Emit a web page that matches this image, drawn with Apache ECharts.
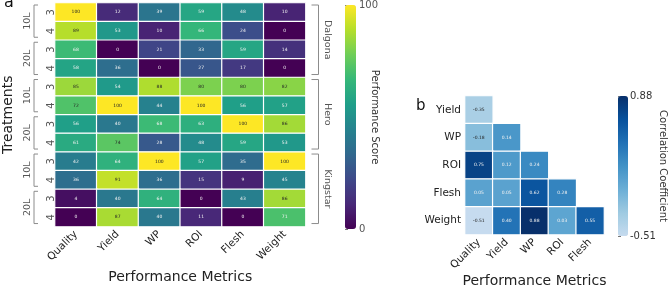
<!DOCTYPE html>
<html>
<head>
<meta charset="utf-8">
<script src="https://cdn.jsdelivr.net/npm/echarts@6/dist/echarts.min.js"></script>
<style>
  html, body { margin: 0; padding: 0; background: #fff; }
  #chart { width: 669px; height: 289px; }
</style>
</head>
<body>
<div id="chart"></div>
<script>
// panel a: performance scores
const metrics = ["Quality", "Yield", "WP", "ROI", "Flesh", "Weight"];
const cultivars = ["Dalgona", "Hero", "Kingstar"];
const volumes = ["10L", "20L"];
const levels = ["3", "4"];
// one row per cultivar / volume / level, columns follow metrics
const scores = [
  [100, 12, 39, 59, 48, 10],
  [89, 53, 10, 66, 24, 0],
  [68, 0, 21, 33, 59, 14],
  [58, 36, 0, 27, 17, 0],
  [85, 54, 88, 80, 80, 82],
  [72, 100, 44, 100, 56, 57],
  [56, 40, 68, 63, 100, 86],
  [61, 74, 28, 48, 59, 53],
  [42, 64, 100, 57, 35, 100],
  [36, 91, 36, 15, 9, 45],
  [4, 40, 64, 0, 43, 86],
  [0, 87, 40, 11, 0, 71]
];
const scoreRange = [0, 100];

// panel b: correlation (lower triangle)
const corrCols = ["Quality", "Yield", "WP", "ROI", "Flesh"];
const corrRows = ["Yield", "WP", "ROI", "Flesh", "Weight"];
const corr = [
  [-0.35],
  [-0.18, 0.14],
  [0.75, 0.12, 0.24],
  [0.05, 0.05, 0.62, 0.28],
  [-0.51, 0.40, 0.88, 0.03, 0.55]
];
const corrRange = [-0.51, 0.88];

const viridis = ["#440154", "#482878", "#3e4989", "#31688e", "#26828e",
  "#1f9e89", "#35b779", "#6ece58", "#b5de2b", "#fde725"];
const blues = ["#c6dbef", "#9ecae1", "#6baed6", "#4292c6", "#2171b5", "#08519c", "#08306b"];
const FONT = "DejaVu Sans";

// build row labels & data
const rowLabels = [];
cultivars.forEach(() => volumes.forEach(() => levels.forEach(l => rowLabels.push(l))));
const heatA = [];
scores.forEach((row, r) => row.forEach((v, c) => heatA.push([c, r, v])));
const heatB = [];
corr.forEach((row, r) => row.forEach((v, c) => heatB.push([c, r, v])));

const volGroups = [], volNames = [];
const cultGroups = [];
cultivars.forEach((cv, ci) => {
  cultGroups.push([ci * 4, ci * 4 + 3]);
  volumes.forEach((vol, vi) => {
    volGroups.push([ci * 4 + vi * 2, ci * 4 + vi * 2 + 1]);
    volNames.push(vol);
  });
});

// bracket drawn next to the grid, using the axis scale
function bracket(side, names) {
  return function (params, api) {
    const band = Math.abs(api.size([0, 1])[1]);
    const top = api.coord([0, api.value(0)])[1] - band / 2 + 2;
    const bot = api.coord([0, api.value(1)])[1] + band / 2 - 3;
    const cs = params.coordSys;
    let lx, tx, labx, rot;
    if (side === "left") {
      lx = cs.x - 21; tx = cs.x - 17; labx = cs.x - 27; rot = Math.PI / 2;
    } else {
      lx = cs.x + cs.width + 13; tx = cs.x + cs.width + 6; labx = cs.x + cs.width + 22; rot = -Math.PI / 2;
    }
    return {
      type: "group",
      children: [
        {
          type: "polyline",
          shape: { points: [[tx, top], [lx, top], [lx, bot], [tx, bot]] },
          style: { stroke: "#8c8c8c", lineWidth: 1, fill: null }
        },
        {
          type: "text",
          x: labx, y: (top + bot) / 2, rotation: rot,
          style: {
            text: names[params.dataIndex], fill: "#555", font: "9.5px " + FONT,
            align: "center", verticalAlign: "middle"
          }
        }
      ]
    };
  };
}

const chart = echarts.init(document.getElementById("chart"));
const option = {
  animation: false,
  textStyle: { fontFamily: FONT },
  graphic: [
    { type: "text", left: 4, top: -5, style: { text: "a", font: "16px " + FONT, fill: "#111" } },
    { type: "text", left: 416, top: 99, style: { text: "b", font: "15px " + FONT, fill: "#111" } }
  ],
  grid: [
    { left: 55, top: 3, width: 250.5, height: 228 },
    { left: 465, top: 96, width: 139, height: 140 },
    { left: 345, top: 5, width: 11, height: 224 },
    { left: 618, top: 96, width: 10, height: 140 }
  ],
  xAxis: [
    {
      gridIndex: 0, type: "category", data: metrics,
      axisLine: { show: false },
      axisTick: { alignWithLabel: true, length: 3, lineStyle: { color: "#777" } },
      axisLabel: { rotate: 45, interval: 0, fontSize: 10.5, color: "#222", margin: 6 },
      name: "Performance Metrics", nameLocation: "middle", nameGap: 42,
      nameTextStyle: { fontSize: 14, color: "#222" }
    },
    {
      gridIndex: 1, type: "category", data: corrCols,
      axisLine: { show: false },
      axisTick: { alignWithLabel: true, length: 3, lineStyle: { color: "#777" } },
      axisLabel: { rotate: 45, interval: 0, fontSize: 10.5, color: "#222", margin: 6 },
      name: "Performance Metrics", nameLocation: "middle", nameGap: 39,
      nameTextStyle: { fontSize: 14, color: "#222" }
    },
    { gridIndex: 2, type: "value", show: false },
    { gridIndex: 3, type: "value", show: false }
  ],
  yAxis: [
    {
      gridIndex: 0, type: "category", data: rowLabels, inverse: true,
      axisLine: { show: false }, axisTick: { show: false },
      axisLabel: { rotate: 90, interval: 0, fontSize: 10, color: "#555", margin: -1 },
      name: "Treatments", nameLocation: "middle", nameRotate: 90, nameGap: 40,
      nameMoveOverlap: false,
      nameTextStyle: { fontSize: 14, color: "#222" }
    },
    {
      gridIndex: 1, type: "category", data: corrRows, inverse: true,
      axisLine: { show: false },
      axisTick: { alignWithLabel: true, length: 3, lineStyle: { color: "#777" } },
      axisLabel: { interval: 0, fontSize: 10.5, color: "#222", margin: 4 }
    },
    {
      gridIndex: 2, type: "value", position: "right",
      min: scoreRange[0], max: scoreRange[1], interval: 100,
      axisLine: { show: false }, splitLine: { show: false },
      axisTick: { show: true, length: 3, lineStyle: { color: "#777" } },
      axisLabel: { fontSize: 10, color: "#555", margin: 3 },
      name: "Performance Score", nameLocation: "middle", nameRotate: -90, nameGap: 14,
      nameMoveOverlap: false,
      nameTextStyle: { fontSize: 10, color: "#333" }
    },
    {
      gridIndex: 3, type: "value", position: "right",
      min: corrRange[0], max: corrRange[1], interval: corrRange[1] - corrRange[0],
      axisLine: { show: false }, splitLine: { show: false },
      axisTick: { show: true, length: 3, lineStyle: { color: "#777" } },
      axisLabel: { fontSize: 10, color: "#333", margin: 3, formatter: v => v.toFixed(2) },
      name: "Correlation Coefficient", nameLocation: "middle", nameRotate: -90, nameGap: 31,
      nameMoveOverlap: false,
      nameTextStyle: { fontSize: 10, color: "#333" }
    }
  ],
  visualMap: [
    {
      type: "continuous", seriesIndex: 0, min: scoreRange[0], max: scoreRange[1],
      left: 345, top: 5, itemWidth: 11, itemHeight: 224, padding: 0,
      calculable: false, hoverLink: false, inRange: { color: viridis }
    },
    {
      type: "continuous", seriesIndex: 1, min: corrRange[0], max: corrRange[1],
      left: 618, top: 96, itemWidth: 10, itemHeight: 140, padding: 0,
      calculable: false, hoverLink: false, inRange: { color: blues }
    }
  ],
  series: [
    {
      type: "heatmap", xAxisIndex: 0, yAxisIndex: 0, data: heatA,
      itemStyle: { borderColor: "#fff", borderWidth: 1.2 },
      emphasis: { disabled: true },
      label: {
        show: true,
        formatter: p => "{" + (p.value[2] >= 72 ? "d" : "l") + "|" + p.value[2] + "}",
        rich: {
          d: { fontSize: 4.5, color: "#262626" },
          l: { fontSize: 4.5, color: "#f2f2f2" }
        }
      }
    },
    {
      type: "heatmap", xAxisIndex: 1, yAxisIndex: 1, data: heatB,
      itemStyle: { borderColor: "#fff", borderWidth: 1.2 },
      emphasis: { disabled: true },
      label: {
        show: true,
        formatter: p => "{" + (p.value[2] < 0 ? "d" : "l") + "|" + p.value[2].toFixed(2) + "}",
        rich: {
          d: { fontSize: 4.5, color: "#262626" },
          l: { fontSize: 4.5, color: "#f2f2f2" }
        }
      }
    },
    {
      type: "custom", xAxisIndex: 0, yAxisIndex: 0, silent: true, z: 5,
      data: volGroups, renderItem: bracket("left", volNames)
    },
    {
      type: "custom", xAxisIndex: 0, yAxisIndex: 0, silent: true, z: 5,
      data: cultGroups, renderItem: bracket("right", cultivars)
    }
  ]
};
chart.setOption(option);
</script>
</body>
</html>
